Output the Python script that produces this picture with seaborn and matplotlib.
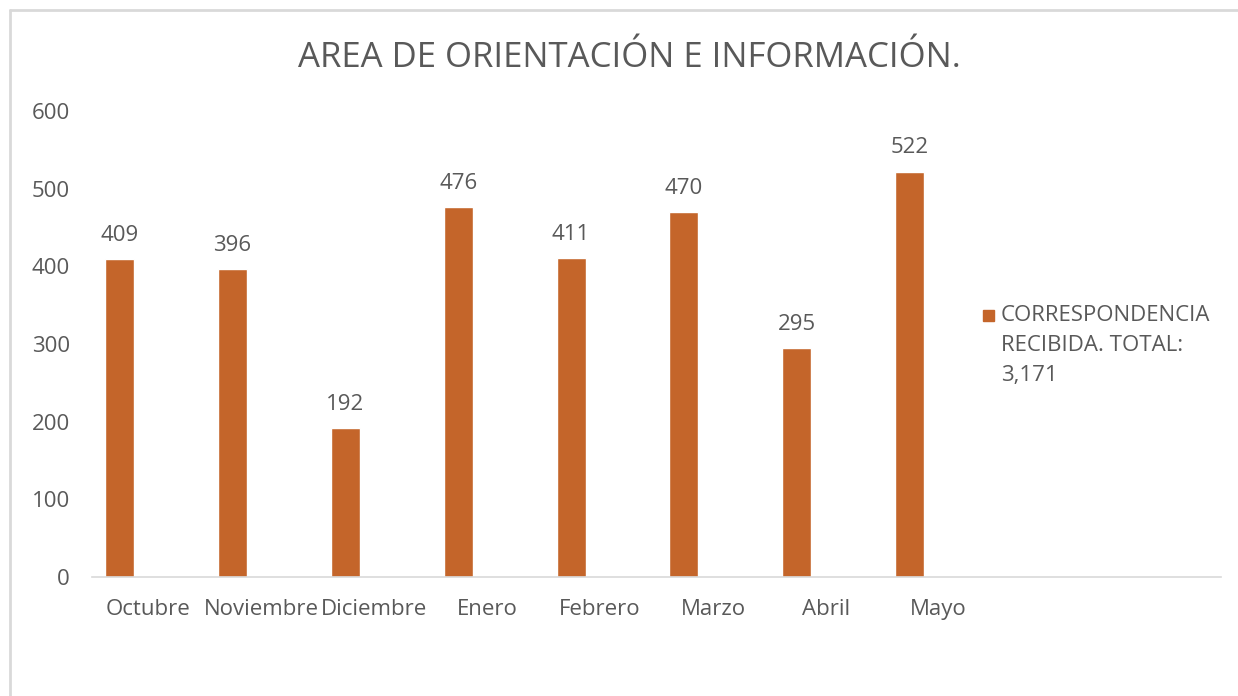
import numpy as np
import pandas as pd
import seaborn as sns
import matplotlib.pyplot as plt
from matplotlib.lines import Line2D
from matplotlib.patches import Rectangle

meses = ["Octubre", "Noviembre", "Diciembre", "Enero", "Febrero", "Marzo", "Abril", "Mayo"]
valores = [409, 396, 192, 476, 411, 470, 295, 522]
categorias = meses + ["", " "]  # two empty slots, as in the original sheet
serie = "CORRESPONDENCIA\nRECIBIDA. TOTAL:\n3,171"
series = [serie, "_s2", "_s3"]  # other series in the source are empty
titulo = "AREA DE ORIENTACIÓN E INFORMACIÓN."

naranja = "#C4652A"
gris = "#595959"
W, H = 1238, 696

sns.set_theme(style="white")
plt.rcParams['font.family'] = ['Open Sans', 'DejaVu Sans']

df = pd.DataFrame({"mes": meses, "valor": valores, "serie": serie})

fig = plt.figure(figsize=(W / 100, H / 100), dpi=100)
ax = fig.add_axes([92 / W, 1 - 577 / H, (1221 - 92) / W, (577 - 111) / H])

sns.barplot(data=df, x="mes", y="valor", hue="serie", order=categorias,
            hue_order=series, palette=[naranja, naranja, naranja],
            width=0.77, gap=0, dodge=True, legend=False, ax=ax, saturation=1)

for cont in ax.containers:
    if len(cont) and not np.isnan(cont.datavalues).all():
        ax.bar_label(cont, fmt="%d", padding=9.5, fontsize=16, color=gris)

ax.set_ylim(0, 600)
ax.set_yticks(range(0, 601, 100))
ax.set_xlim(-0.5, len(categorias) - 0.5)
ax.set_xlabel("")
ax.set_ylabel("")
ax.tick_params(axis="both", length=0, labelsize=16, labelcolor=gris)
ax.tick_params(axis="y", pad=16)
ax.tick_params(axis="x", pad=16)
for s in ["top", "right", "left"]:
    ax.spines[s].set_visible(False)
ax.spines["bottom"].set_color("#d9d9d9")
ax.spines["bottom"].set_linewidth(1.2)

fig.text(629.5 / W, 1 - 58 / H, titulo, ha="center", va="center",
         fontsize=25, color=gris)

# legend drawn by hand: square key next to the first line of a 3-line label
fig.add_artist(Rectangle((983 / W, 1 - 321 / H), 11 / W, 11 / H,
                         transform=fig.transFigure, color=naranja))
fig.text(1001 / W, 1 - 305 / H, serie, ha="left", va="top",
         fontsize=16, color=gris, linespacing=1.55)

# outer chart frame (top and left visible)
fig.add_artist(Line2D([10 / W, 1], [1 - 10 / H, 1 - 10 / H], color="#d9d9d9", lw=2))
fig.add_artist(Line2D([10 / W, 10 / W], [0, 1 - 10 / H], color="#d9d9d9", lw=2))

fig.savefig("out.png", dpi=100, facecolor="white")
